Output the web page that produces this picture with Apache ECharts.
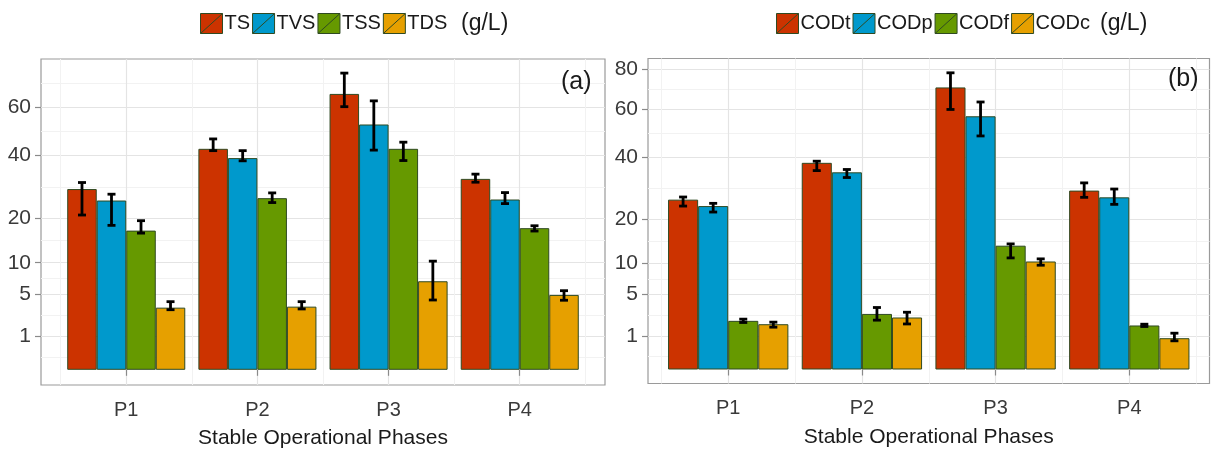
<!DOCTYPE html>
<html>
<head>
<meta charset="utf-8">
<script src="https://cdn.jsdelivr.net/npm/echarts/dist/echarts.min.js"></script>
<style>
html,body{margin:0;padding:0;background:#fff;}
#c{width:1211px;height:449px;}
</style>
</head>
<body>
<div id="c"></div>
<script>
// ---------- data (g/L) ----------
const categories = ['P1', 'P2', 'P3', 'P4'];

const seriesNamesA = ['TS', 'TVS', 'TSS', 'TDS'];
const TS     = [28.5, 42.6, 66.4, 31.8];
const TS_lo  = [20.9, 41.9, 60.4, 30.7];
const TS_hi  = [30.6, 46.5, 76.8, 33.4];
const TVS    = [25.0, 39.1, 52.5, 25.3];
const TVS_lo = [18.2, 38.1, 42.1, 24.1];
const TVS_hi = [26.9, 41.9, 63.1, 27.4];
const TSS    = [16.9, 25.7, 42.6, 17.5];
const TSS_lo = [16.3, 24.4, 38.2, 16.8];
const TSS_hi = [19.4, 27.3, 45.2, 18.1];
const TDS    = [3.37, 3.48, 6.84, 4.89];
const TDS_lo = [3.15, 3.23, 4.25, 4.22];
const TDS_hi = [4.05, 4.05, 10.3, 5.46];

const seriesNamesB = ['CODt', 'CODp', 'CODf', 'CODc'];
const CODt    = [25.6, 37.9, 70.6, 28.4];
const CODt_lo = [23.7, 35.1, 60.0, 26.3];
const CODt_hi = [26.4, 38.5, 78.1, 30.9];
const CODp    = [23.7, 34.5, 56.9, 26.3];
const CODp_lo = [22.0, 32.7, 48.4, 24.2];
const CODp_hi = [24.5, 35.5, 63.5, 28.9];
const CODf    = [2.10, 2.74, 13.6, 1.72];
const CODf_lo = [1.96, 2.16, 11.05, 1.64];
const CODf_hi = [2.25, 3.41, 14.0, 1.82];
const CODc    = [1.82, 2.40, 10.35, 0.87];
const CODc_lo = [1.59, 1.84, 9.65, 0.73];
const CODc_hi = [1.99, 2.91, 10.86, 1.17];

const yTicksA = [1, 5, 10, 20, 40, 60];
const yTicksB = [1, 5, 10, 20, 40, 60, 80];
const xTitle = 'Stable Operational Phases';
const unitText = '(g/L)';

// ---------- styling ----------
const COLORS = ['#cc3300', '#0099cc', '#669900', '#e6a000'];
const OUTLINE = '#2f4a22';
const FONT = 'Liberation Sans, Arial, sans-serif';

const sq = v => Math.sqrt(v);
const catPos = categories.map((c, i) => i + 1);
const minorX = [0.5, 1.5, 2.5, 3.5, 4.5];
function minorY(ticks) {
  const s = ticks.map(sq);
  const out = [s[0] - (s[1] - s[0]) / 2];
  for (let i = 0; i < s.length - 1; i++) out.push((s[i] + s[i + 1]) / 2);
  out.push(s[s.length - 1] + (s[s.length - 1] - s[s.length - 2]) / 2);
  return out;
}

function mainX(gi, min, max) {
  return {
    type: 'value', gridIndex: gi, min: min, max: max,
    axisLine: {show: false},
    axisTick: {show: true, customValues: catPos, length: 6, lineStyle: {color: '#8a8a8a', width: 1.2}},
    axisLabel: {show: true, customValues: catPos, margin: 15,
      formatter: v => categories[Math.round(v) - 1] || '',
      fontSize: 20, color: '#3a3a3a', fontFamily: FONT},
    splitLine: {show: true, lineStyle: {color: '#e4e4e4', width: 1.2}},
    name: xTitle, nameLocation: 'middle', nameGap: 43,
    nameTextStyle: {fontSize: 21, color: '#1a1a1a', fontFamily: FONT}
  };
}
function minorXAxis(gi, min, max) {
  return {
    type: 'value', gridIndex: gi, min: min, max: max, position: 'bottom',
    axisLine: {show: false},
    axisTick: {show: false, customValues: minorX},
    axisLabel: {show: false, customValues: minorX},
    splitLine: {show: true, lineStyle: {color: '#f2f2f2', width: 1}}
  };
}
function mainY(gi, min, max, ticks) {
  const s = ticks.map(sq);
  return {
    type: 'value', gridIndex: gi, min: min, max: max,
    axisLine: {show: false},
    axisTick: {show: true, customValues: s, length: 6, lineStyle: {color: '#8a8a8a', width: 1.2}},
    axisLabel: {show: true, customValues: s, margin: 10,
      formatter: v => String(Math.round(v * v)),
      fontSize: 21, color: '#3a3a3a', fontFamily: FONT},
    splitLine: {show: true, lineStyle: {color: '#e4e4e4', width: 1.2}}
  };
}
function minorYAxis(gi, min, max, ticks) {
  const m = minorY(ticks);
  return {
    type: 'value', gridIndex: gi, min: min, max: max, position: 'left',
    axisLine: {show: false},
    axisTick: {show: false, customValues: m},
    axisLabel: {show: false, customValues: m},
    splitLine: {show: true, lineStyle: {color: '#f2f2f2', width: 1}}
  };
}

function barSeries(name, vals, k, xi, yi) {
  return {
    type: 'bar', name: name, xAxisIndex: xi, yAxisIndex: yi,
    data: vals.map((v, i) => [catPos[i], sq(v)]),
    barGap: '0%', barCategoryGap: '10%',
    itemStyle: {color: COLORS[k], borderColor: OUTLINE, borderWidth: 1},
    emphasis: {disabled: true}, z: 3
  };
}
function errSeries(name, lo, hi, k, xi, yi) {
  return {
    type: 'custom', name: name + ' error', xAxisIndex: xi, yAxisIndex: yi,
    data: lo.map((l, i) => [catPos[i], sq(l), sq(hi[i])]),
    encode: {x: 0, y: [1, 2]}, z: 5, silent: true,
    renderItem: function (params, api) {
      const x = api.value(0);
      const unit = api.size([1, 0])[0];
      const off = (k - 1.5) * 0.225 * unit;
      const top = api.coord([x, api.value(2)]);
      const bot = api.coord([x, api.value(1)]);
      const cx = top[0] + off;
      const cap = 4;
      const st = {stroke: '#000', lineWidth: 2.8};
      return {type: 'group', children: [
        {type: 'line', shape: {x1: cx, y1: top[1], x2: cx, y2: bot[1]}, style: st},
        {type: 'line', shape: {x1: cx - cap, y1: top[1], x2: cx + cap, y2: top[1]}, style: st},
        {type: 'line', shape: {x1: cx - cap, y1: bot[1], x2: cx + cap, y2: bot[1]}, style: st}
      ]};
    }
  };
}

const valsA = [TS, TVS, TSS, TDS], loA = [TS_lo, TVS_lo, TSS_lo, TDS_lo], hiA = [TS_hi, TVS_hi, TSS_hi, TDS_hi];
const valsB = [CODt, CODp, CODf, CODc], loB = [CODt_lo, CODp_lo, CODf_lo, CODc_lo], hiB = [CODt_hi, CODp_hi, CODf_hi, CODc_hi];

const series = [];
seriesNamesA.forEach((n, k) => series.push(barSeries(n, valsA[k], k, 0, 0)));
seriesNamesA.forEach((n, k) => series.push(errSeries(n, loA[k], hiA[k], k, 0, 0)));
seriesNamesB.forEach((n, k) => series.push(barSeries(n, valsB[k], k, 2, 2)));
seriesNamesB.forEach((n, k) => series.push(errSeries(n, loB[k], hiB[k], k, 2, 2)));

const legendIcon = 'path://M0 0H22V20H0ZM0 20L22 0';
function legend(names, left) {
  return {
    data: names, left: left, top: 13, orient: 'horizontal',
    icon: legendIcon, itemWidth: 22, itemHeight: 20, itemGap: 2, padding: 0,
    selectedMode: false,
    itemStyle: {borderColor: OUTLINE, borderWidth: 1},
    textStyle: {fontSize: 20, color: '#1a1a1a', fontFamily: FONT, padding: [0, 0, 0, -3]}
  };
}

const option = {
  animation: false,
  backgroundColor: '#ffffff',
  textStyle: {fontFamily: FONT},
  title: [
    {text: unitText, left: 461, top: 12, padding: 0, textStyle: {fontSize: 23, fontWeight: 'normal', color: '#1a1a1a', fontFamily: FONT}},
    {text: unitText, left: 1100, top: 12, padding: 0, textStyle: {fontSize: 23, fontWeight: 'normal', color: '#1a1a1a', fontFamily: FONT}},
    {text: '(a)', left: 561, top: 70, padding: 0, textStyle: {fontSize: 25, fontWeight: 'normal', color: '#1a1a1a', fontFamily: FONT}},
    {text: '(b)', left: 1168, top: 67, padding: 0, textStyle: {fontSize: 25, fontWeight: 'normal', color: '#1a1a1a', fontFamily: FONT}}
  ],
  legend: [legend(seriesNamesA, 200), legend(seriesNamesB, 776)],
  grid: [
    {left: 41, top: 59, width: 564, height: 326, show: true, borderColor: '#9a9a9a', borderWidth: 1.2, backgroundColor: 'transparent', containLabel: false, outerBoundsMode: 'none'},
    {left: 648, top: 58.5, width: 561.5, height: 325, show: true, borderColor: '#9a9a9a', borderWidth: 1.2, backgroundColor: 'transparent', containLabel: false, outerBoundsMode: 'none'}
  ],
  xAxis: [
    mainX(0, 0.35, 4.65), minorXAxis(0, 0.35, 4.65),
    mainX(1, 0.4, 4.6), minorXAxis(1, 0.4, 4.6)
  ],
  yAxis: [
    mainY(0, -0.449, 9.18, yTicksA), minorYAxis(0, -0.449, 9.18, yTicksA),
    mainY(1, -0.417, 9.264, yTicksB), minorYAxis(1, -0.417, 9.264, yTicksB)
  ],
  series: series
};

const chart = echarts.init(document.getElementById('c'));
chart.setOption(option);
</script>
</body>
</html>
